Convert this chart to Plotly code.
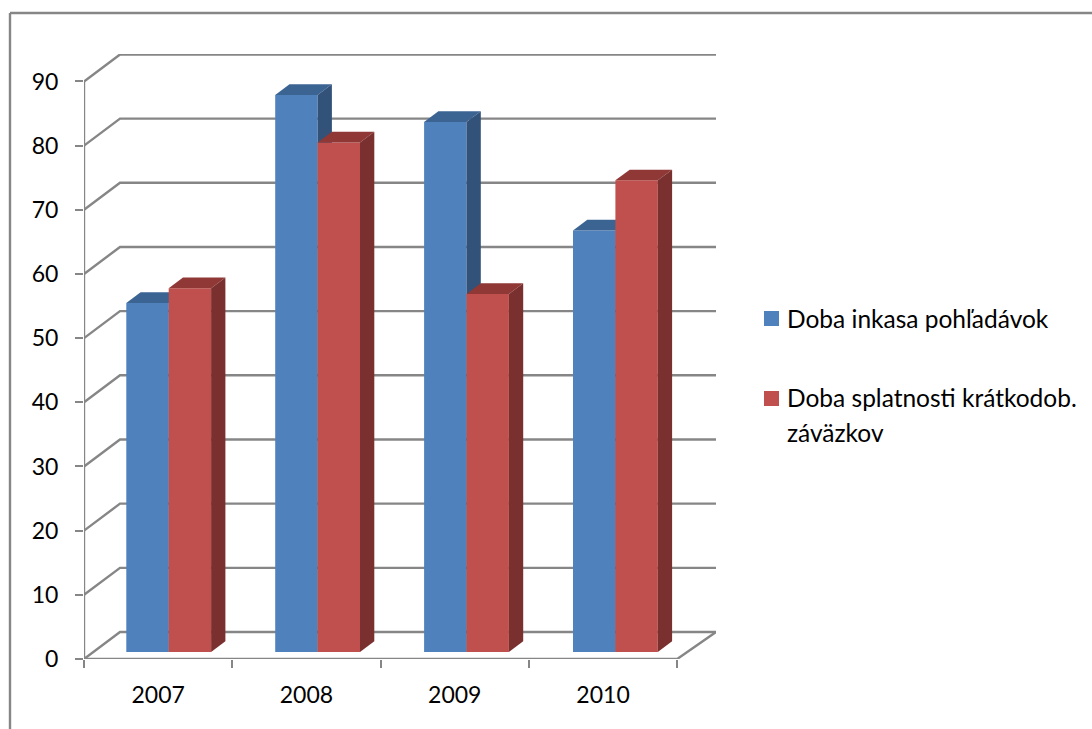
import plotly.graph_objects as go

# Chart data
years = ["2007", "2008", "2009", "2010"]
receivables_days = [54.4, 86.8, 82.6, 65.7]
payables_days = [56.7, 79.4, 55.8, 73.5]
receivables_name = "Doba inkasa pohľadávok"
payables_lines = ["Doba splatnosti krátkodob.", "záväzkov"]
value_ticks = list(range(0, 100, 10))

# Canvas and plot box, in pixels
WIDTH, HEIGHT = 1092, 729
LEFT, RIGHT, TOP, BOTTOM = 84, 716, 54, 659
X_UNIT = 148.3   # pixels per category
Y_UNIT = 6.417   # pixels per value unit
x_range = [0, (RIGHT - LEFT) / X_UNIT]
y_range = [0, (BOTTOM - TOP) / Y_UNIT]

# Oblique projection of the box and of the bars, in axis units
WALL_DX, WALL_DY = 36 / X_UNIT, 27 / Y_UNIT
BAR_DX, BAR_DY = 14.3 / X_UNIT, 10.7 / Y_UNIT
BAR_WIDTH = 42.4 / X_UNIT
BAR_BASE = 7 / Y_UNIT
GROUP_START = 42.3 / X_UNIT + BAR_WIDTH
GROUP_STEP = 148.9 / X_UNIT

GRID = "#868686"
LINE_WIDTH = 2.4
TEXT = "#000000"
FONT = "Lato"
AXIS_FONT_SIZE = 23
LEGEND_FONT_SIZE = 24.5
BLUE = dict(front="#4F81BD", top="#3C6493", side="#32527A")
RED = dict(front="#C0504D", top="#8F3836", side="#7A302E")


def px(x):
    return (x - LEFT) / (RIGHT - LEFT)


def py(y):
    return (BOTTOM - y) / (BOTTOM - TOP)


fig = go.Figure()


def add_line(xs, ys):
    fig.add_trace(go.Scatter(x=xs, y=ys, mode="lines", showlegend=False, hoverinfo="skip",
                             line=dict(color=GRID, width=LINE_WIDTH), cliponaxis=False))


# Back wall lines with their diagonals down to the value axis
for v in value_ticks:
    add_line([0, WALL_DX, x_range[1]], [v, v + WALL_DY, v + WALL_DY])
# Floor edges and the axis lines
add_line([0, 4, x_range[1]], [0, 0, WALL_DY])
add_line([0, 0], [0, value_ticks[-1]])


def add_series(name, values, offset, colors, layer):
    xaxis, yaxis = f"x{layer}", f"y{layer}"
    lefts = [GROUP_START + i * GROUP_STEP + offset * BAR_WIDTH for i in range(len(values))]
    fig.add_trace(go.Bar(
        name=name,
        x=lefts, y=values, base=BAR_BASE, width=BAR_WIDTH, offset=0,
        marker=dict(color=colors["front"], line=dict(width=0)),
        showlegend=False, xaxis=xaxis, yaxis=yaxis,
        customdata=years, hovertemplate="%{customdata}: %{y}<extra>" + name + "</extra>",
    ))
    for x0, v in zip(lefts, values):
        x1 = x0 + BAR_WIDTH
        top = v + BAR_BASE
        fig.add_trace(go.Scatter(
            x=[x0, x1, x1 + BAR_DX, x0 + BAR_DX, x0],
            y=[top, top, top + BAR_DY, top + BAR_DY, top],
            mode="lines", fill="toself", fillcolor=colors["top"], line=dict(width=0),
            showlegend=False, hoverinfo="skip", xaxis=xaxis, yaxis=yaxis,
        ))
        fig.add_trace(go.Scatter(
            x=[x1, x1 + BAR_DX, x1 + BAR_DX, x1, x1],
            y=[BAR_BASE, BAR_BASE + BAR_DY, top + BAR_DY, top, BAR_BASE],
            mode="lines", fill="toself", fillcolor=colors["side"], line=dict(width=0),
            showlegend=False, hoverinfo="skip", xaxis=xaxis, yaxis=yaxis,
        ))


add_series(receivables_name, receivables_days, -1, BLUE, 2)
add_series(payables_lines[0] + " " + payables_lines[1], payables_days, 0, RED, 3)

# Outer chart frame: only its top and left edges fall on the canvas
shapes = [
    dict(type="line", xref="paper", yref="paper", x0=px(10), x1=px(WIDTH), y0=py(13), y1=py(13),
         line=dict(color=GRID, width=LINE_WIDTH)),
    dict(type="line", xref="paper", yref="paper", x0=px(10), x1=px(10), y0=py(13), y1=py(HEIGHT),
         line=dict(color=GRID, width=LINE_WIDTH)),
]

# Legend swatches and labels
annotations = []
for color, y_mid in ((BLUE["front"], 318.5), (RED["front"], 398.5)):
    shapes.append(dict(type="rect", xref="paper", yref="paper", x0=px(764), x1=px(779),
                       y0=py(y_mid - 7.5), y1=py(y_mid + 7.5),
                       fillcolor=color, line=dict(width=0)))
for text, y_mid in ((receivables_name, 318), (payables_lines[0], 398), (payables_lines[1], 432)):
    annotations.append(dict(text=text, xref="paper", yref="paper", x=px(787), y=py(y_mid),
                            xanchor="left", yanchor="middle", showarrow=False,
                            xshift=-2, font=dict(family=FONT, size=LEGEND_FONT_SIZE, color=TEXT)))

hidden = dict(visible=False, fixedrange=True)
fig.update_layout(
    width=WIDTH, height=HEIGHT,
    margin=dict(l=LEFT, r=WIDTH - RIGHT, t=TOP, b=HEIGHT - BOTTOM, pad=0),
    paper_bgcolor="white", plot_bgcolor="white",
    showlegend=False, shapes=shapes, annotations=annotations,
    font=dict(family=FONT, size=AXIS_FONT_SIZE, color=TEXT),
    xaxis=dict(
        range=x_range, showgrid=False, zeroline=False, showline=False,
        tickmode="array", tickvals=[i + 0.5 for i in range(len(years))], ticktext=years,
        ticks="", ticklabelstandoff=20,
        minor=dict(tickmode="array", tickvals=list(range(len(years) + 1)),
                   ticks="outside", ticklen=8, tickwidth=2, tickcolor=GRID, showgrid=False),
    ),
    yaxis=dict(
        range=y_range, showgrid=False, zeroline=False, showline=False,
        tickmode="array", tickvals=value_ticks, ticks="outside", ticklen=8,
        tickwidth=2, tickcolor=GRID, ticklabelstandoff=12,
    ),
    xaxis2=dict(overlaying="x", range=x_range, **hidden),
    yaxis2=dict(overlaying="y", range=y_range, **hidden),
    xaxis3=dict(overlaying="x", range=x_range, **hidden),
    yaxis3=dict(overlaying="y", range=y_range, **hidden),
)

fig.write_html("out.html")
